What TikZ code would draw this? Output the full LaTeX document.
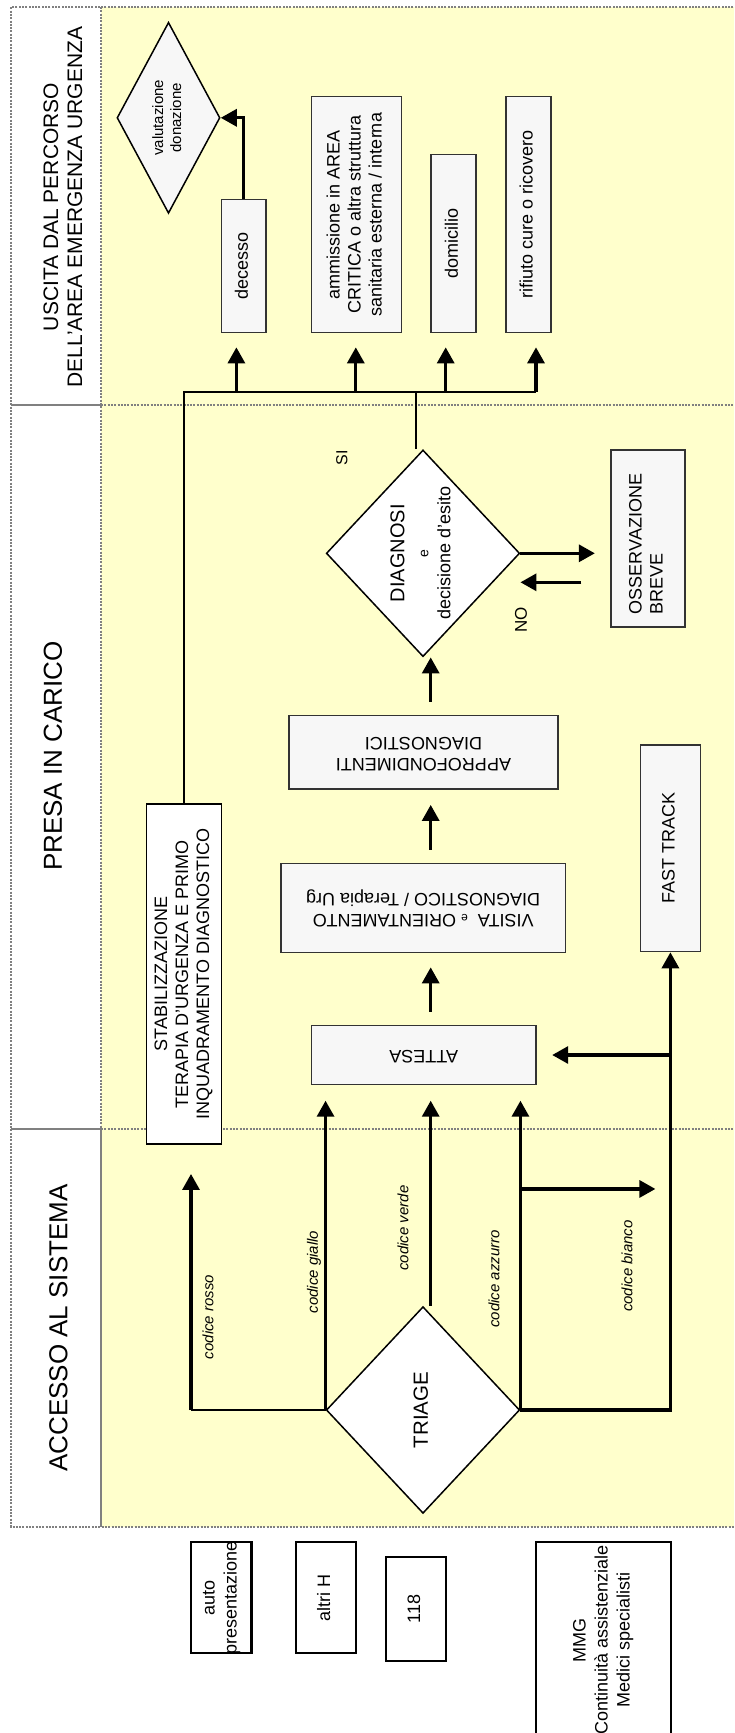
\documentclass[tikz,border=0pt]{standalone}
\usepackage{fontspec}
\setmainfont{Liberation Sans}
\usepackage{graphicx}
\usetikzlibrary{shapes.geometric,arrows.meta,calc}
\definecolor{lanebg}{HTML}{FFFFCC}
\definecolor{laneline}{HTML}{808080}
\definecolor{boxgray}{HTML}{F7F7F7}

% rotated, centred text block of zero size (the node size comes from its minimum width/height)
\newcommand\tx[3][@{}c@{}]{\raisebox{\dimexpr(\depth-\height)/2\relax}[0pt][0pt]{\makebox[0pt]{\rotatebox{#2}{\begin{tabular}{#1}#3\end{tabular}}}}}

\begin{document}
\begin{tikzpicture}[x=1pt,y=-1pt,
  lanedot/.style={draw=laneline, line width=2pt, dash pattern=on 2pt off 1.3pt},
  lanerule/.style={draw=laneline, line width=2.6pt},
  hdr/.style={rotate=90, align=center, inner sep=0pt, font=\fontsize{26}{30}\selectfont},
  gbox/.style={rectangle, draw=black!80, line width=1.3pt, fill=boxgray, inner sep=0pt, font=\fontsize{18}{21}\selectfont},
  wbox/.style={gbox, draw=black, fill=white},
  src/.style={rectangle, draw=black, line width=2.3pt, fill=white, inner sep=0pt, font=\fontsize{18}{22}\selectfont},
  dia/.style={diamond, draw=black, line width=1.5pt, inner sep=0pt, font=\fontsize{18}{22}\selectfont},
  lbl/.style={rotate=90, inner sep=0pt, font=\fontsize{16}{16}\selectfont},
  code/.style={rotate=90, inner sep=0pt, font=\fontsize{15}{18}\selectfont\itshape},
  arr/.style={line width=3.2pt, -{Triangle[length=16pt,width=17pt]}},
  link/.style={line width=2pt}]

\useasboundingbox (0,0) rectangle (734,1733);
\clip (0,0) rectangle (734,1733);
\fill[white] (0,0) rectangle (734,1733);

% swimlanes
\fill[lanebg] (101,7) rectangle (740,1527);
\draw[lanedot] (740,7) -- (11,7) -- (11,1527) -- (740,1527);
\draw[lanedot] (101,7) -- (101,1129);
\draw[lanerule] (101,1129) -- (101,1527);
\draw[lanerule] (11,405) -- (101,405);
\draw[lanedot] (101,405) -- (740,405);
\draw[lanerule] (11,1129) -- (101,1129);
\draw[lanedot] (101,1129) -- (740,1129);

\node[hdr, font=\fontsize{21}{24}\selectfont] (hOut) at (63,207) {USCITA DAL PERCORSO\\DELL’AREA EMERGENZA URGENZA};
\node[hdr] (hCare) at (53,756) {PRESA IN CARICO};
\node[hdr] (hAcc) at (58.5,1328) {ACCESSO AL SISTEMA};

% exits
\node[dia, fill=boxgray, minimum width=103pt, minimum height=191pt, font=\fontsize{15}{18}\selectfont] (val) at (168.5,117.8) {\tx{90}{valutazione\\donazione}};
\node[gbox, minimum width=44.6pt, minimum height=133pt] (dec) at (243.7,265.8) {\tx{90}{decesso}};
\node[gbox, minimum width=90pt, minimum height=235.6pt] (amm) at (356.3,214.5) {\tx{90}{ammissione in AREA\\CRITICA o altra struttura\\sanitaria esterna / interna}};
\node[gbox, minimum width=45pt, minimum height=177.6pt] (dom) at (453.6,243.5) {\tx{90}{domicilio}};
\node[gbox, minimum width=45pt, minimum height=235.6pt] (rif) at (528.5,214.5) {\tx{90}{rifiuto cure o ricovero}};

% care path
\node[dia, fill=white, minimum width=193.4pt, minimum height=206.7pt] (diag) at (423,553.3)
  {\tx{90}{{\fontsize{20}{20}\selectfont DIAGNOSI}\\[2pt]{\fontsize{14}{14}\selectfont e}\\decisione d’esito}};
\node[gbox, minimum width=74pt, minimum height=177pt] (oss) at (648,538.5) {\tx[@{}l@{\hspace{11pt}}]{90}{OSSERVAZIONE\\BREVE}};
\node[gbox, minimum width=269pt, minimum height=73.3pt] (app) at (423.5,752.3) {\tx{180}{APPROFONDIMENTI\\DIAGNOSTICI}};
\node[gbox, minimum width=284.6pt, minimum height=89pt] (vis) at (423.2,907.8) {\tx{180}{VISITA\ \ {\fontsize{12}{12}\selectfont e} ORIENTAMENTO\\DIAGNOSTICO / Terapia Urg}};
\node[gbox, minimum width=224.7pt, minimum height=58.7pt] (att) at (423.7,1055) {\tx{180}{ATTESA}};
\node[gbox, minimum width=60pt, minimum height=206.7pt] (ft) at (670.4,848.3) {\tx{90}{FAST TRACK}};
\node[wbox, minimum width=75pt, minimum height=340pt] (stab) at (184,974) {\tx{90}{STABILIZZAZIONE\\TERAPIA D’URGENZA E PRIMO\\INQUADRAMENTO DIAGNOSTICO}};

\node[lbl] (si) at (341.8,457.5) {SI};
\node[lbl, font=\fontsize{17}{17}\selectfont] (no) at (521,620) {NO};

% access
\node[dia, fill=white, minimum width=193.4pt, minimum height=206.7pt, font=\fontsize{20.5}{24}\selectfont] (tri) at (423,1410) {\tx{90}{TRIAGE}};
\node[code] (cR) at (208,1317) {codice rosso};
\node[code] (cG) at (314,1272) {codice giallo};
\node[code] (cV) at (403,1228) {codice verde};
\node[code] (cA) at (494,1279) {codice azzurro};
\node[code] (cB) at (627,1266) {codice bianco};

% sources
\node[src, minimum width=60.4pt, minimum height=111.6pt] (auto) at (221.2,1597.5) {\tx{90}{auto\\presentazione}};
\node[src, minimum width=60pt, minimum height=111.6pt] (altri) at (325.8,1597.5) {\tx{90}{altri H}};
\node[src, minimum width=60pt, minimum height=104.3pt] (n118) at (415.7,1608.8) {\tx{90}{118}};
\node[src, minimum width=135.3pt, minimum height=195.4pt] (mmg) at (603.3,1640) {\tx{90}{MMG\\Continuità assistenziale\\Medici specialisti}};

% anchor points for the connectors
\coordinate (tD)  at ([xshift=-7.3pt,yshift=-14.4pt]dec.south);
\coordinate (tA)  at ([xshift=-0.5pt,yshift=-14.4pt]amm.south);
\coordinate (tDo) at ([xshift=-7.9pt,yshift=-14.4pt]dom.south);
\coordinate (tR)  at ([xshift=7.5pt,yshift=-14.4pt]rif.south);
\coordinate (bus) at ([yshift=-44.3pt]tD);
\coordinate (tap) at ([xshift=-7.3pt]diag.north);
\coordinate (spine) at ([xshift=7.7pt]diag.south);
\coordinate (aOut) at ([yshift=13.4pt]app.north);
\coordinate (aIn)  at ([yshift=-15.3pt]app.south);
\coordinate (vOut) at ([yshift=13pt]vis.north);
\coordinate (vIn)  at ([yshift=-14.4pt]vis.south);
\coordinate (tOut) at ([yshift=13.4pt]att.north);
\coordinate (tIn)  at ([yshift=-15.7pt]att.south);
\coordinate (ossIn)  at ([xshift=-15.5pt]oss.west);
\coordinate (ossOut) at ([xshift=-29pt,yshift=-43.8pt]oss.west);
\coordinate (rTip) at ([xshift=7pt,yshift=-29.3pt]stab.south);
\coordinate (brRow) at ([yshift=-44.3pt]stab.south);
\coordinate (brTip) at ([xshift=-15pt]ft.south);
\coordinate (attIn) at ([xshift=15.5pt]att.east);

% exit distribution
\draw[link] (stab.north) |- (bus -| tR);
\draw[link] (tap) -- (tap |- bus);
\foreach \t in {tD,tA,tDo,tR} \draw[arr] (bus -| \t) -- (\t);
\draw[arr] (dec.north) |- (val.east);

% care path arrows
\draw[arr] (aOut -| spine) -- (spine);
\draw[arr] (vOut -| spine) -- (aIn -| spine);
\draw[arr] (tOut -| spine) -- (vIn -| spine);
\draw[arr] (diag.east) -- (ossIn |- diag.east);
\draw[arr] (ossOut) -- (ossOut -| diag.east);

% triage outputs
\draw[link] (tri.west) -- (tri.west -| rTip);
\draw[arr] (tri.west -| rTip) -- (rTip);
\draw[arr] (tri.west) -- (tri.west |- tIn);
\draw[arr] (tri.north -| spine) -- (tIn -| spine);
\draw[arr] (tri.east) -- (tri.east |- tIn);
\draw[arr] (tri.east |- brRow) -- (brTip |- brRow);
\draw[arr] (tri.east) -| (ft.south);
\draw[arr] (att.east -| ft.south) -- (attIn);
\end{tikzpicture}
\end{document}
